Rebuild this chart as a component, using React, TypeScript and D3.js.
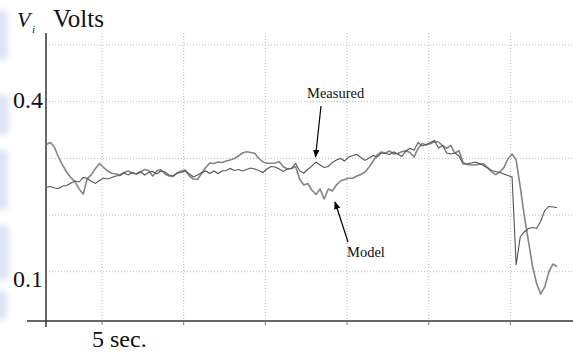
import React from 'react';
import * as d3 from 'd3';

const W = 573;
const H = 353;

// Sampling of both traces (seconds)
const timeStart = 1.6;
const timeStep = 0.25;

// Measured V_i (volts)
const measuredVolts = [
  0.2490,0.2504,0.2478,0.2469,0.2513,0.2522,0.2566,0.2601,0.2583,0.2663,
  0.2645,0.2592,0.2557,0.2610,0.2654,0.2636,0.2663,0.2689,0.2698,0.2742,
  0.2707,0.2751,0.2725,0.2769,0.2707,0.2751,0.2769,0.2725,0.2778,0.2760,
  0.2707,0.2689,0.2742,0.2751,0.2778,0.2725,0.2672,0.2707,0.2751,0.2778,
  0.2733,0.2778,0.2733,0.2778,0.2786,0.2822,0.2786,0.2804,0.2778,0.2804,
  0.2830,0.2813,0.2786,0.2751,0.2813,0.2857,0.2848,0.2813,0.2769,0.2813,
  0.2822,0.2910,0.2778,0.2742,0.2804,0.2866,0.2936,0.2883,0.2839,0.2857,
  0.2928,0.2972,0.2998,0.2954,0.3025,0.3051,0.3069,0.3016,0.2963,0.3007,
  0.3051,0.3025,0.3095,0.3086,0.3069,0.3113,0.3077,0.3033,0.3130,0.3175,
  0.3148,0.3280,0.3219,0.3245,0.3280,0.3316,0.3183,0.3228,0.3095,0.3077,
  0.3095,0.3042,0.2901,0.2901,0.2919,0.2936,0.2910,0.2875,0.2830,0.2786,
  0.2769,0.2751,0.2725,0.2698,0.2672,0.1119,0.1613,0.1701,0.1763,0.1781,
  0.1763,0.1886,0.2081,0.2151,0.2142,0.2133,
];

// Model V_i (volts)
const modelVolts = [
  0.3245,0.3280,0.3192,0.3012,0.2875,0.2751,0.2659,0.2587,0.2460,0.2372,
  0.2642,0.2714,0.2822,0.2910,0.2839,0.2776,0.2737,0.2725,0.2707,0.2751,
  0.2778,0.2742,0.2725,0.2751,0.2804,0.2786,0.2689,0.2778,0.2804,0.2725,
  0.2689,0.2680,0.2742,0.2778,0.2795,0.2689,0.2636,0.2628,0.2737,0.2839,
  0.2919,0.2910,0.2936,0.2928,0.2954,0.2972,0.2998,0.3042,0.3095,0.3118,
  0.3104,0.3090,0.2998,0.2936,0.2913,0.2913,0.2919,0.2942,0.2853,0.2813,
  0.2822,0.2857,0.2636,0.2530,0.2557,0.2437,0.2363,0.2460,0.2283,0.2460,
  0.2425,0.2530,0.2601,0.2628,0.2649,0.2649,0.2689,0.2716,0.2760,0.2848,
  0.2954,0.3060,0.3113,0.3095,0.3130,0.3077,0.3086,0.3118,0.3136,0.3104,
  0.3025,0.3175,0.3263,0.3236,0.3259,0.3298,0.3289,0.3224,0.3178,0.3228,
  0.3090,0.3138,0.2928,0.2892,0.2883,0.2883,0.2898,0.2910,0.2836,0.2763,
  0.2712,0.2763,0.2836,0.2993,0.3077,0.2972,0.2495,0.1983,0.1542,0.1101,
  0.0796,0.0607,0.0731,0.0995,0.1136,0.1089,
];

const gridSeconds = [5, 10, 15, 20, 25, 30];
const gridVolts = [0.1, 0.2, 0.3, 0.4, 0.5];
const labelVolts = [0.4, 0.1];
const xLabel = '5 sec.';
const yUnit = 'Volts';

const FONT = '"Liberation Serif", "Times New Roman", serif';

export default function App() {
  const x = d3.scaleLinear().domain([1.573, 33.83]).range([46, 573]);
  const y = d3.scaleLinear().domain([0.1, 0.4]).range([271.7, 101.7]);
  const axisY = 321;
  const plotTop = 33;

  const line = d3
    .line<number>()
    .x((_, i) => x(timeStart + i * timeStep))
    .y((d) => y(d));

  return (
    <svg
      width={W}
      height={H}
      style={{ position: 'absolute', left: 0, top: 0, background: '#fff' }}
      fontFamily={FONT}
    >
      <defs>
        <filter id="blur" x="-50%" y="-50%" width="200%" height="200%">
          <feGaussianBlur stdDeviation="3" />
        </filter>
        <marker id="arrow" viewBox="0 0 10 10" refX="9" refY="5" markerWidth="8" markerHeight="8" orient="auto-start-reverse" markerUnits="userSpaceOnUse">
          <path d="M0,1 L10,5 L0,9 Z" fill="#000" />
        </marker>
      </defs>
      <rect x={0} y={0} width={W} height={H} fill="#fff" />
      {/* faint watermark at left edge */}
      <g filter="url(#blur)" fill="#c3cdec" opacity={0.55}>
        <rect x={-6} y={10} width={14} height={50} rx={5} />
        <rect x={-6} y={95} width={15} height={40} rx={5} />
        <rect x={-6} y={150} width={14} height={60} rx={5} />
        <rect x={-6} y={225} width={15} height={55} rx={5} />
        <rect x={-6} y={290} width={13} height={30} rx={5} />
      </g>

      {/* grid */}
      <g stroke="#bcbcbc" strokeWidth={1} strokeDasharray="1,2">
        {gridVolts.map((v) => (
          <line key={'h' + v} x1={46} x2={W} y1={y(v)} y2={y(v)} />
        ))}
        {gridSeconds.map((s) => (
          <line key={'v' + s} x1={x(s)} x2={x(s)} y1={plotTop} y2={axisY} />
        ))}
      </g>

      {/* axes */}
      <line x1={46} x2={46} y1={plotTop} y2={327} stroke="#333" strokeWidth={1.5} />
      <line x1={27} x2={W} y1={axisY} y2={axisY} stroke="#333" strokeWidth={1.5} />
      {gridSeconds.map((s) => (
        <line key={'t' + s} x1={x(s)} x2={x(s)} y1={axisY} y2={axisY + 4} stroke="#777" strokeWidth={1} />
      ))}

      {/* traces */}
      <path d={line(modelVolts) || ''} fill="none" stroke="#858585" strokeWidth={1.6} strokeLinejoin="round" />
      <path d={line(measuredVolts) || ''} fill="none" stroke="#555" strokeWidth={1.1} strokeLinejoin="miter" />

      {/* labels */}
      {labelVolts.map((v, i) => (
        <text key={'l' + v} x={43} y={i === 0 ? y(v) + 6.5 : y(v) + 15} textAnchor="end" fontSize={24} fill="#111">
          {v.toFixed(1)}
        </text>
      ))}
      <text x={92} y={347} fontSize={24} fill="#111">{xLabel}</text>
      <text x={17} y={27} fontSize={22} fontStyle="italic" fill="#111">V</text>
      <text x={32} y={33} fontSize={11} fontStyle="italic" fill="#111">i</text>
      <text x={53} y={27} fontSize={25} fill="#111">{yUnit}</text>

      {/* annotations */}
      <text x={307} y={98} fontSize={14.5} fill="#111">Measured</text>
      <line x1={321} y1={106} x2={315.5} y2={157} stroke="#000" strokeWidth={1.2} markerEnd="url(#arrow)" />
      <text x={347} y={257} fontSize={14.5} fill="#111">Model</text>
      <line x1={348} y1={242} x2={335} y2={202} stroke="#000" strokeWidth={1.2} markerEnd="url(#arrow)" />
    </svg>
  );
}
